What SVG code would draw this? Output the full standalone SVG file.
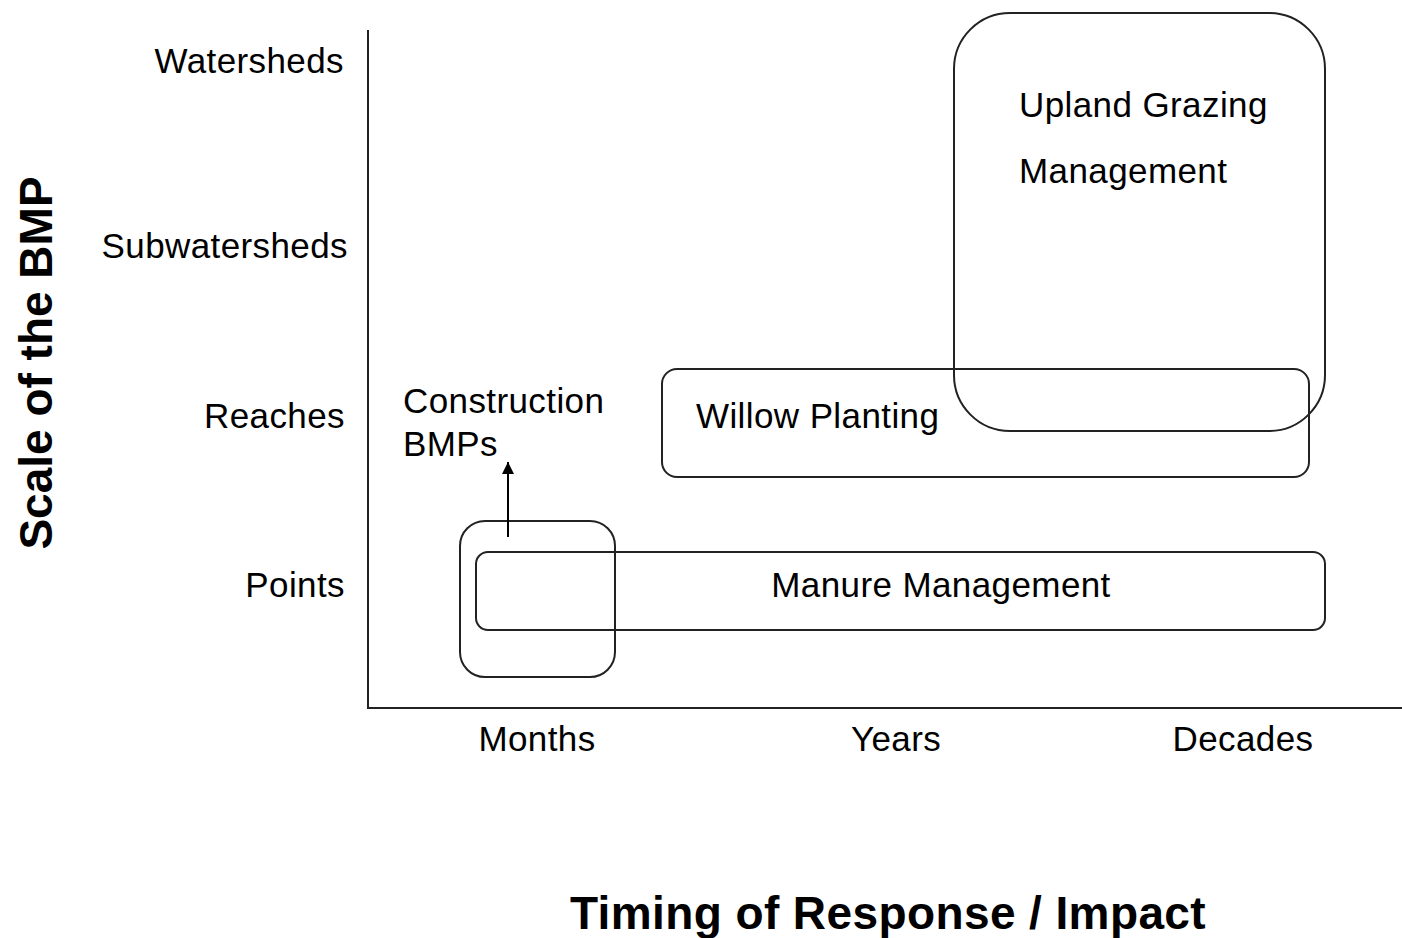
<svg xmlns="http://www.w3.org/2000/svg" width="1402" height="938" viewBox="0 0 1402 938">
<style>
.lbl{font-family:"Liberation Sans",Arial,sans-serif;font-size:35px;letter-spacing:0.4px;fill:#000}
.ttl{font-family:"Liberation Sans",Arial,sans-serif;font-size:46px;font-weight:bold;fill:#000}
.box{fill:none;stroke:#222;stroke-width:2}
.axis{stroke:#222;stroke-width:2;fill:none}
</style>
<defs>
<marker id="ah" markerWidth="12" markerHeight="12" refX="12" refY="6" orient="auto" markerUnits="userSpaceOnUse" viewBox="0 0 12 12">
<path d="M0,0 L12,6 L0,12 Z" fill="#000"/>
</marker>
</defs>
<rect width="1402" height="938" fill="#fff"/>
<g id="axes">
<line class="axis" x1="368" y1="30" x2="368" y2="709"/>
<line class="axis" x1="367" y1="708" x2="1402" y2="708"/>
</g>
<g id="y-labels">
<text class="lbl" x="344" y="73" text-anchor="end">Watersheds</text>
<text class="lbl" x="348" y="258" text-anchor="end">Subwatersheds</text>
<text class="lbl" x="345" y="428" text-anchor="end">Reaches</text>
<text class="lbl" x="345" y="597" text-anchor="end">Points</text>
<text class="ttl" transform="translate(52,363) rotate(-90)" text-anchor="middle">Scale of the BMP</text>
</g>
<g id="x-labels">
<text class="lbl" x="537" y="751" text-anchor="middle">Months</text>
<text class="lbl" x="896" y="751" text-anchor="middle">Years</text>
<text class="lbl" x="1243" y="751" text-anchor="middle">Decades</text>
<text class="ttl" x="888" y="929" text-anchor="middle" letter-spacing="0.4">Timing of Response / Impact</text>
</g>
<g id="upland">
<rect class="box" x="954" y="13" width="371" height="418" rx="56" ry="56"/>
<text class="lbl" x="1019" y="117">Upland Grazing</text>
<text class="lbl" x="1019" y="183">Management</text>
</g>
<g id="willow">
<rect class="box" x="662" y="369" width="647" height="108" rx="15" ry="15"/>
<text class="lbl" x="696" y="428">Willow Planting</text>
</g>
<g id="manure">
<rect class="box" x="476" y="552" width="849" height="78" rx="12" ry="12"/>
<text class="lbl" x="941" y="597" text-anchor="middle">Manure Management</text>
</g>
<g id="construction">
<rect class="box" x="460" y="521" width="155" height="156" rx="25" ry="25"/>
<text class="lbl" x="403" y="413">Construction</text>
<text class="lbl" x="403" y="456">BMPs</text>
</g>
<g id="connectors">
<line x1="508" y1="537" x2="508" y2="462" stroke="#000" stroke-width="2" marker-end="url(#ah)"/>
</g>
</svg>
